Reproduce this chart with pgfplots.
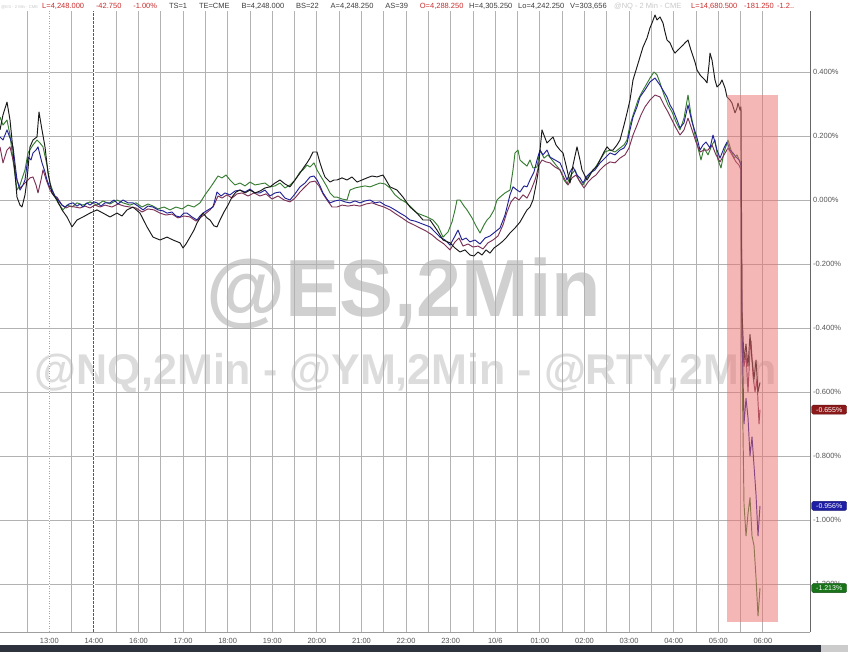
\documentclass[border=0pt]{standalone}
\usepackage{fontspec}
\setmainfont{Liberation Sans}
\usepackage{pgfplots}
\pgfplotsset{compat=1.18}
\definecolor{cNQ}{RGB}{25,25,25}
\definecolor{cES}{RGB}{35,35,150}
\definecolor{cRTY}{RGB}{55,125,50}
\definecolor{cYM}{RGB}{125,50,85}
\definecolor{gridc}{RGB}{178,178,178}
\definecolor{tickc}{RGB}{85,85,85}
\definecolor{wm1}{RGB}{208,208,208}
\definecolor{wm2}{RGB}{220,220,220}
\definecolor{hred}{RGB}{200,45,45}
\definecolor{hdark}{RGB}{60,60,60}
\definecolor{hfaint}{RGB}{200,200,200}
\definecolor{pinkc}{RGB}{235,110,110}
\definecolor{boxred}{RGB}{140,25,25}
\definecolor{boxblue}{RGB}{30,30,165}
\definecolor{boxgreen}{RGB}{25,115,25}
\definecolor{barc}{RGB}{45,50,60}

\pgfplotstableread{
x y
0 0.219
3 0.266
7 0.306
10 0.25
13 0.156
17 0.009
20 -0.016
22 -0.022
25 0.016
27 0.0625
30 0.166
33 0.1875
37 0.197
39 0.275
42 0.219
45 0.166
48 0.084
52 0.022
57 0
62 -0.031
67 -0.053
72 -0.084
77 -0.0625
83 -0.053
90 -0.041
97 -0.031
103 -0.041
110 -0.053
117 -0.041
122 -0.05
127 -0.031
133 -0.022
140 -0.041
147 -0.084
153 -0.116
160 -0.125
167 -0.116
173 -0.125
180 -0.134
183 -0.15
186 -0.1375
190 -0.116
194 -0.094
197 -0.072
203 -0.041
207 -0.056
210 -0.0625
214 -0.081
217 -0.084
220 -0.0625
224 -0.0375
228 -0.016
232 0.009
236 0.025
240 0.031
245 0.022
250 0.031
255 0.022
260 0.028
265 0.0375
270 0.041
275 0.053
280 0.0625
285 0.05
290 0.041
295 0.0625
300 0.084
304 0.103
307 0.116
310 0.131
313 0.15
317 0.15
320 0.116
323 0.0875
325 0.072
330 0.056
334 0.0625
337 0.0625
342 0.069
347 0.0625
352 0.072
357 0.056
362 0.0625
367 0.069
372 0.075
377 0.072
383 0.078
386 0.0625
390 0.041
397 0.031
403 0.009
410 -0.022
417 -0.041
423 -0.0625
430 -0.0625
437 -0.094
443 -0.125
450 -0.134
455 -0.15
460 -0.1625
465 -0.156
470 -0.172
474 -0.175
478 -0.1625
482 -0.172
486 -0.156
490 -0.166
494 -0.15
498 -0.141
502 -0.131
506 -0.119
510 -0.103
515 -0.0875
520 -0.069
524 -0.047
527 -0.031
530 -0.022
533 0
536 0.047
538 0.084
540 0.156
542 0.219
545 0.194
547 0.178
550 0.1875
553 0.197
556 0.172
560 0.156
563 0.147
566 0.109
570 0.053
573 0.109
577 0.166
580 0.125
582 0.094
585 0.075
587 0.0625
590 0.078
593 0.094
597 0.106
600 0.125
604 0.15
607 0.166
610 0.156
613 0.156
617 0.172
620 0.1875
624 0.234
627 0.272
630 0.3125
633 0.375
637 0.416
640 0.447
643 0.478
647 0.506
650 0.538
652 0.553
655 0.578
657 0.5625
660 0.572
663 0.553
665 0.525
667 0.5
670 0.491
673 0.469
675 0.459
678 0.469
680 0.475
683 0.484
685 0.491
688 0.5
690 0.478
692 0.459
695 0.431
697 0.406
700 0.391
702 0.384
705 0.375
707 0.366
709 0.422
710 0.459
712 0.4375
713 0.416
715 0.375
717 0.353
720 0.3625
722 0.375
725 0.35
727 0.322
730 0.3125
732 0.303
735 0.272
737 0.2875
738 0.303
740 0.281
741 0.291
742 -0.35
744 -0.5
746 -0.45
748 -0.52
750 -0.42
752 -0.5
754 -0.56
756 -0.5
758 -0.6
760 -0.57
}\tNQ

\pgfplotstableread{
x y
0 0.197
3 0.1875
7 0.219
10 0.194
13 0.166
17 0.0625
20 0.031
23 0.047
25 0.0625
28 0.134
31 0.125
33 0.147
36 0.156
38 0.166
42 0.116
45 0.0875
47 0.0625
50 0.0375
52 0.031
55 0.0125
58 0
62 -0.016
65 -0.022
69 -0.0125
73 -0.009
77 -0.019
80 -0.0125
83 -0.022
87 -0.009
90 -0.016
94 -0.006
97 -0.009
101 -0.019
105 -0.009
110 -0.009
114 0
118 -0.0125
123 0
128 -0.009
133 -0.009
138 -0.019
143 -0.031
148 -0.019
153 -0.022
158 -0.031
163 -0.034
167 -0.041
172 -0.0375
176 -0.05
180 -0.053
184 -0.041
187 -0.041
192 -0.053
197 -0.0625
200 -0.05
203 -0.041
208 -0.031
213 -0.022
217 0.025
221 0.0125
225 0.022
230 0.016
235 0.028
240 0.031
245 0.025
250 0.034
255 0.022
260 0.022
265 0.031
270 0.0125
275 0.022
280 0.025
285 0.006
290 0
295 0.019
300 0.041
305 0.053
310 0.072
314 0.075
317 0.0625
320 0.044
323 0.022
327 0.003
330 -0.009
335 -0.003
340 0
345 -0.006
350 -0.009
355 -0.003
360 -0.009
365 -0.003
370 0
375 -0.009
380 -0.006
385 -0.016
390 -0.022
395 -0.031
400 -0.041
405 -0.05
410 -0.0625
415 -0.066
420 -0.072
425 -0.078
430 -0.084
435 -0.1
440 -0.116
445 -0.125
450 -0.141
455 -0.1125
458 -0.094
462 -0.125
466 -0.119
470 -0.131
475 -0.125
480 -0.1375
485 -0.119
490 -0.1125
495 -0.1
500 -0.0875
505 -0.047
510 0.016
513 0.041
517 0.031
520 0.025
524 0.044
527 0.041
530 0.0625
534 0.0875
537 0.125
540 0.156
543 0.141
547 0.156
550 0.134
555 0.125
560 0.116
564 0.0875
567 0.0625
570 0.0875
573 0.103
577 0.078
580 0.069
583 0.053
587 0.075
590 0.084
595 0.094
600 0.116
605 0.131
610 0.147
615 0.141
620 0.156
624 0.1625
627 0.178
630 0.219
633 0.259
637 0.291
640 0.322
645 0.344
650 0.369
655 0.381
660 0.359
664 0.3375
667 0.322
670 0.297
673 0.281
677 0.25
680 0.225
684 0.241
688 0.297
692 0.244
697 0.194
700 0.156
703 0.172
706 0.181
710 0.1625
713 0.203
717 0.156
720 0.131
724 0.1625
727 0.181
730 0.156
733 0.147
736 0.134
739 0.125
741 0.109
742 -0.4
744 -0.7
746 -0.62
748 -0.68
750 -0.8
752 -0.74
754 -0.83
756 -0.92
758 -1.05
760 -0.956
}\tES

\pgfplotstableread{
x y
0 0.259
3 0.234
7 0.25
10 0.203
13 0.125
17 0.031
20 0.047
25 0.094
28 0.147
33 0.172
37 0.1875
40 0.178
43 0.166
47 0.109
50 0.053
54 0.016
58 -0.009
63 -0.031
67 -0.016
72 -0.022
77 -0.009
83 -0.016
90 -0.006
97 -0.016
103 -0.003
110 -0.0125
117 0
123 -0.009
130 -0.016
136 -0.009
142 -0.022
148 -0.0125
153 -0.019
158 -0.028
164 -0.022
170 -0.031
176 -0.022
182 -0.028
188 -0.016
194 -0.022
200 -0.009
205 0.016
210 0.0375
214 0.056
218 0.075
222 0.069
226 0.078
230 0.0625
235 0.047
240 0.053
245 0.044
250 0.056
255 0.047
260 0.05
265 0.053
270 0.041
275 0.044
280 0.053
285 0.0375
290 0.047
295 0.0625
300 0.0875
303 0.094
307 0.109
310 0.103
314 0.116
317 0.094
320 0.078
323 0.0625
327 0.041
330 0.022
334 0.009
337 0.009
342 0.003
347 0
350 0.031
355 0.0375
360 0.041
365 0.044
370 0.041
375 0.047
380 0.053
385 0.05
390 0.0375
395 0.016
400 0.003
405 -0.006
410 -0.019
417 -0.041
422 -0.047
427 -0.053
433 -0.0625
438 -0.081
443 -0.116
448 -0.1
452 -0.069
455 -0.031
457 0
460 0
464 -0.019
467 -0.031
472 -0.056
476 -0.081
480 -0.103
484 -0.078
487 -0.0625
490 -0.053
494 -0.031
497 0
500 0.009
505 0.022
510 0.031
513 0.094
515 0.147
518 0.156
520 0.125
523 0.116
527 0.106
530 0.125
533 0.1
537 0.103
540 0.156
544 0.131
548 0.141
552 0.125
556 0.109
560 0.094
564 0.0625
567 0.05
571 0.078
575 0.094
579 0.0625
583 0.047
587 0.069
591 0.0875
595 0.1
600 0.125
605 0.15
610 0.156
615 0.15
620 0.1625
624 0.172
627 0.1875
630 0.234
634 0.275
638 0.3125
642 0.3375
646 0.359
650 0.381
654 0.4
657 0.391
660 0.366
664 0.328
668 0.297
672 0.275
676 0.244
680 0.219
684 0.256
688 0.328
691 0.266
695 0.203
698 0.1625
701 0.125
704 0.1625
708 0.141
712 0.172
715 0.1875
718 0.125
721 0.1
724 0.15
728 0.1875
731 0.156
734 0.131
737 0.141
740 0.119
741 0.109
742 -0.5
744 -0.95
746 -1.05
748 -0.98
750 -0.93
752 -1.05
754 -1.08
756 -1.18
758 -1.3
760 -1.213
}\tRTY

\pgfplotstableread{
x y
0 0.166
3 0.116
7 0.156
10 0.166
13 0.125
17 0.0625
20 0.0375
25 0.053
30 0.069
33 0.072
36 0.047
38 0.022
41 0.0625
43 0.094
47 0.056
50 0.031
54 0.0125
57 0.009
62 -0.016
66 -0.025
70 -0.019
75 -0.022
80 -0.025
85 -0.019
90 -0.025
95 -0.016
100 -0.022
105 -0.016
112 -0.022
118 -0.0125
124 -0.019
130 -0.022
136 -0.025
142 -0.0375
148 -0.028
154 -0.031
160 -0.041
166 -0.047
172 -0.044
178 -0.056
184 -0.05
190 -0.053
196 -0.066
200 -0.056
205 -0.044
210 -0.031
214 -0.016
218 0.0125
222 0.006
227 0.016
232 0.006
237 0.019
242 0.022
248 0.0125
254 0.022
260 0.0125
266 0.019
272 0.003
278 0.0125
284 0
290 -0.006
295 0.006
300 0.025
305 0.041
310 0.056
315 0.059
319 0.044
323 0.019
327 0
332 -0.022
337 -0.022
342 -0.016
348 -0.019
354 -0.016
360 -0.019
366 -0.0125
372 -0.009
378 -0.016
384 -0.022
390 -0.031
396 -0.044
402 -0.056
408 -0.069
414 -0.078
420 -0.0875
426 -0.097
432 -0.109
438 -0.125
444 -0.1375
450 -0.156
455 -0.131
459 -0.119
463 -0.144
468 -0.1375
473 -0.147
478 -0.144
483 -0.153
488 -0.134
493 -0.125
498 -0.1125
503 -0.078
507 -0.0375
511 -0.006
515 0.009
519 0
523 0.016
527 0.006
531 0.031
535 0.0625
539 0.109
542 0.125
546 0.119
550 0.116
555 0.103
560 0.094
564 0.069
568 0.047
572 0.069
576 0.078
580 0.056
584 0.0375
588 0.056
592 0.069
596 0.078
600 0.094
605 0.109
610 0.119
615 0.116
620 0.131
625 0.141
629 0.1625
633 0.203
637 0.234
641 0.266
645 0.291
650 0.3125
655 0.328
660 0.322
664 0.297
668 0.275
672 0.25
676 0.225
680 0.203
684 0.219
688 0.256
692 0.219
696 0.181
700 0.15
704 0.156
708 0.156
712 0.172
716 0.141
720 0.119
724 0.141
728 0.1625
732 0.141
736 0.119
739 0.109
741 0.094
742 -0.45
744 -0.52
746 -0.48
748 -0.6
750 -0.47
751 -0.44
753 -0.55
755 -0.6
757 -0.56
759 -0.7
760 -0.655
}\tYM

\begin{document}
\begin{tikzpicture}[x=1pt,y=1pt]
\useasboundingbox (0,0) rectangle (848,652);
% watermark
\node[text=wm1, font=\bfseries\fontsize{81}{81}\selectfont, inner sep=0pt] at (404,358) {@ES,2Min};
\node[text=wm2, font=\bfseries\fontsize{43}{43}\selectfont, inner sep=0pt] at (406,279) {@NQ,2Min - @YM,2Min - @RTY,2Min};
\begin{axis}[
  at={(0pt,20pt)}, anchor=south west,
  scale only axis, width=810pt, height=621pt,
  xmin=0, xmax=810, ymin=-1.35, ymax=0.5906,
  axis line style={draw=none},
  major tick length=0pt, minor tick length=0pt,
  xtick={49.3,93.9,138.5,183.1,227.7,272.3,316.9,361.5,406.1,450.7,495.3,539.9,584.5,629.1,673.7,718.3,762.9},
  xticklabels={13:00,14:00,16:00,17:00,18:00,19:00,20:00,21:00,22:00,23:00,10/6,01:00,02:00,03:00,04:00,05:00,06:00},
  minor xtick={27,71.6,116.2,160.8,205.4,250,294.6,339.2,383.8,428.4,473,517.6,562.2,606.8,651.4,696,740.6},
  ytick={-1.2,-1,-0.8,-0.6,-0.4,-0.2,0,0.2,0.4},
  yticklabels={-1.200\%,-1.000\%,-0.800\%,-0.600\%,-0.400\%,-0.200\%,0.000\%,0.200\%,0.400\%},
  yticklabel pos=right,
  xmajorgrids, xminorgrids, ymajorgrids,
  major grid style={gridc, line width=0.9pt},
  minor grid style={gridc, line width=0.9pt},
  xticklabel style={font=\fontsize{7.5}{8}\selectfont, text=tickc, anchor=center, inner sep=0pt, yshift=-8.5pt},
  yticklabel style={font=\fontsize{7.5}{8}\selectfont, text=tickc, anchor=west, inner sep=0pt, xshift=3pt},
  clip=false,
  every axis plot/.append style={line width=0.95pt, line join=round},
]
% session marker lines
\draw[white, line width=1.4pt] (axis cs:49.3,-1.35) -- (axis cs:49.3,0.5906);
\draw[white, line width=1.4pt] (axis cs:93.9,-1.35) -- (axis cs:93.9,0.5906);
\draw[gray!70, line width=0.8pt, dash pattern=on 1pt off 1.5pt] (axis cs:49.3,-1.35) -- (axis cs:49.3,0.5906);
\draw[gray!70!black, line width=0.9pt, dash pattern=on 2.5pt off 1.5pt] (axis cs:93.9,-1.35) -- (axis cs:93.9,0.5906);

\addplot[cRTY] table[x=x,y=y] {\tRTY};
\addplot[cYM] table[x=x,y=y] {\tYM};
\addplot[cES] table[x=x,y=y] {\tES};
\addplot[cNQ] table[x=x,y=y] {\tNQ};

% highlight
\fill[pinkc, fill opacity=0.5] (axis cs:727,0.328) rectangle (axis cs:778,-1.319);

% axis lines
\draw[gray!75, line width=0.9pt] (axis cs:0,-1.35) -- (axis cs:810,-1.35);
\draw[gray!80!black, line width=0.9pt] (axis cs:810,-1.35) -- (axis cs:810,0.5906);

% last value boxes
\node[anchor=west, fill=boxred, draw=boxred!70!black, rounded corners=1.5pt, text=white, font=\fontsize{7}{7}\selectfont, inner xsep=3pt, inner ysep=2pt, minimum width=35pt] at (axis cs:811.5,-0.655) {-0.655\%};
\node[anchor=west, fill=boxblue, draw=boxblue!70!black, rounded corners=1.5pt, text=white, font=\fontsize{7}{7}\selectfont, inner xsep=3pt, inner ysep=2pt, minimum width=35pt] at (axis cs:811.5,-0.956) {-0.956\%};
\node[anchor=west, fill=boxgreen, draw=boxgreen!70!black, rounded corners=1.5pt, text=white, font=\fontsize{7}{7}\selectfont, inner xsep=3pt, inner ysep=2pt, minimum width=35pt] at (axis cs:811.5,-1.213) {-1.213\%};
\end{axis}
% header line
\begin{scope}[every node/.style={anchor=base west, inner sep=0pt, font=\fontsize{7.5}{8}\selectfont}]
\node[text=hfaint, font=\fontsize{4.2}{5}\selectfont] at (1,643) {@ES - 2 Min - CME};
\node[text=hred] at (42,643) {L=4,248.000};
\node[text=hred] at (95.8,643) {-42.750};
\node[text=hred] at (133.1,643) {-1.00\%};
\node[text=hdark] at (168.8,643) {TS=1};
\node[text=hdark] at (198.8,643) {TE=CME};
\node[text=hdark] at (241.3,643) {B=4,248.000};
\node[text=hdark] at (295.9,643) {BS=22};
\node[text=hdark] at (330.5,643) {A=4,248.250};
\node[text=hdark] at (385.1,643) {AS=39};
\node[text=hred] at (419.7,643) {O=4,288.250};
\node[text=hdark] at (469,643) {H=4,305.250};
\node[text=hdark] at (518,643) {Lo=4,242.250};
\node[text=hdark] at (570,643) {V=303,656};
\node[text=hfaint] at (614,643) {@NQ - 2 Min - CME};
\node[text=hred] at (691,643) {L=14,680.500};
\node[text=hred] at (744,643) {-181.250};
\node[text=hred] at (777,643) {-1.2..};
\end{scope}
% bottom bar
\fill[barc] (0,0) rectangle (821,6.5);
\fill[gray!40] (821,0) rectangle (848,6.5);
\end{tikzpicture}
\end{document}
